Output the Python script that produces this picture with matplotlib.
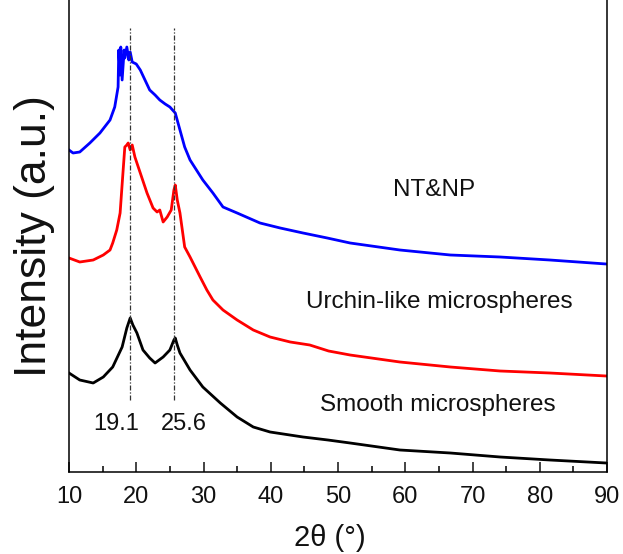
import matplotlib
matplotlib.use('Agg')
import matplotlib.pyplot as plt
from matplotlib.ticker import MultipleLocator

plt.rcParams['font.family'] = ['Liberation Sans', 'DejaVu Sans']

# NT&NP (синя крива)
two_theta_nt = [10.0, 10.6, 11.6, 13.1, 14.6, 16.1, 16.8, 17.3, 17.4, 17.6, 17.7, 17.9,
                18.2, 18.3, 18.6, 18.9, 19.1, 19.4, 20.0, 20.6, 21.3, 22.0, 22.8, 23.5,
                24.3, 25.0, 25.8, 26.5, 27.2, 28.0, 29.9, 31.4, 32.9, 35.0, 38.4, 41.4,
                44.8, 48.4, 51.8, 59.2, 66.7, 74.1, 81.5, 89.9]
intensity_nt = [322, 319, 320, 329, 339, 352, 365, 385, 422, 397, 425, 392,
                422, 414, 425, 412, 420, 410, 408, 402, 392, 382, 377, 372,
                368, 365, 359, 342, 325, 312, 292, 279, 265, 259, 249, 244,
                239, 234, 229, 222, 217, 215, 212, 208]

# Urchin-like microspheres (червона крива)
two_theta_urchin = [10.0, 11.6, 13.6, 15.1, 16.1, 16.5, 17.1, 17.6, 18.0, 18.3, 18.6, 18.8,
                    19.1, 19.4, 19.8, 20.6, 21.6, 22.5, 23.1, 23.5, 24.0, 24.6, 25.2, 25.6,
                    25.8, 26.1, 26.5, 27.2, 28.0, 29.5, 30.5, 31.4, 32.9, 35.0, 37.4, 39.9,
                    42.9, 45.8, 48.6, 51.8, 59.2, 66.7, 74.1, 81.5, 89.9]
intensity_urchin = [214, 210, 212, 217, 222, 229, 242, 259, 297, 325, 327, 329,
                    322, 327, 315, 299, 279, 264, 260, 262, 250, 255, 262, 282,
                    287, 272, 259, 225, 215, 195, 182, 172, 162, 152, 142, 135,
                    130, 127, 121, 117, 110, 105, 101, 99, 96]

# Smooth microspheres (чорна крива)
two_theta_smooth = [10.0, 11.6, 13.6, 15.1, 16.5, 17.9, 18.6, 19.1, 19.5, 20.1, 21.0, 22.0,
                    22.8, 24.0, 25.0, 25.6, 25.8, 26.1, 26.5, 28.0, 29.9, 32.5, 35.0, 37.4,
                    39.9, 44.8, 48.5, 51.8, 59.2, 66.7, 74.1, 81.5, 89.9]
intensity_smooth = [99, 92, 89, 95, 105, 125, 144, 154, 147, 139, 122, 114,
                    109, 115, 122, 132, 134, 127, 119, 102, 85, 69, 55, 45,
                    40, 35, 32, 29, 22, 19, 15, 12, 9]

peak_positions = [19.1, 25.6]
peak_labels = ['19.1', '25.6']
peak_label_x = [17.0, 27.1]

fig = plt.figure(figsize=(6.23, 5.54), dpi=100)
ax = fig.add_axes([69 / 623, 1 - 472 / 554, 538 / 623, 472 / 554])

ax.plot(two_theta_nt, intensity_nt, color='#0000ff', lw=2)
ax.plot(two_theta_urchin, intensity_urchin, color='#ff0000', lw=2)
ax.plot(two_theta_smooth, intensity_smooth, color='black', lw=2)

# Вертикальні лінії піків та підписи
for p in peak_positions:
    ax.plot([p, p], [72, 444], color='#333333', lw=0.9, linestyle=(0, (4, 1.5, 1, 1.5)))
for lx, lab in zip(peak_label_x, peak_labels):
    ax.text(lx, 48, lab, ha='center', va='center', fontsize=17, color='#111111')

ax.text(64.3, 282, 'NT&NP', ha='center', va='center', fontsize=17.5, color='#111111')
ax.text(65.0, 170, 'Urchin-like microspheres', ha='center', va='center', fontsize=17.5, color='#111111')
ax.text(64.9, 67, 'Smooth microspheres', ha='center', va='center', fontsize=17.5, color='#111111')

ax.set_xlim(10, 90)
ax.set_ylim(0, 472)
ax.xaxis.set_major_locator(MultipleLocator(10))
ax.xaxis.set_minor_locator(MultipleLocator(5))
ax.set_yticks([])
ax.tick_params(axis='x', which='major', direction='in', length=7, width=1.1,
               labelsize=17, pad=10, colors='#111111')
ax.tick_params(axis='x', which='minor', direction='in', length=4, width=1.1)
ax.spines['top'].set_visible(False)
for s in ['left', 'right', 'bottom']:
    ax.spines[s].set_linewidth(1.1)

ax.set_xlabel('2θ (°)', fontsize=21, color='#111111', va='center')
ax.xaxis.set_label_coords(0.485, -0.14)
ax.set_ylabel('Intensity (a.u.)', fontsize=32, labelpad=10, color='#111111')

plt.savefig('out.png', dpi=100)
